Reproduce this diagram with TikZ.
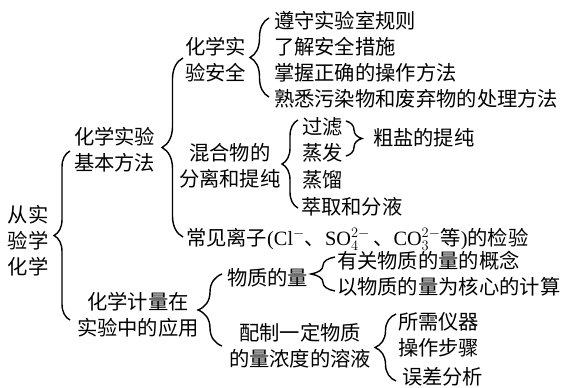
\documentclass[tikz,border=0pt]{standalone}
\usepackage{fontspec}
\setmainfont{Noto Sans CJK SC}
\newfontfamily\lat{Liberation Serif}
\usetikzlibrary{decorations.pathreplacing}
\begin{document}
\begin{tikzpicture}[x=1pt,y=-1pt,
  every node/.style={font=\fontsize{20.3}{26}\selectfont, inner sep=0pt, outer sep=0pt},
  lbl/.style={anchor=west, align=center},
  item/.style={anchor=west},
  br/.style={decorate, decoration={brace, amplitude=#1}, line width=1.4pt}
]
\useasboundingbox (0,0) rectangle (565,388);
% root
\node[lbl, align=left] (root) at (8,241) {从实\\验学\\化学};
\coordinate (b0b) at (70,320); \coordinate (b0t) at (70,151);
\draw[br=16pt] (b0b) -- (b0t);

% 化学实验基本方法
\node[lbl] (n1) at (74,150) {化学实验\\基本方法};
\coordinate (b1b) at (183,237); \coordinate (b1t) at (183,58);
\draw[br=21pt] (b1b) -- (b1t);

\node[lbl] (n11) at (185,60) {化学实\\验安全};
\coordinate (b2b) at (269,97); \coordinate (b2t) at (269,18);
\draw[br=19pt] (b2b) -- (b2t);
\node[item] (a1) at (274,21) {遵守实验室规则};
\node[item] (a2) at (274,47) {了解安全措施};
\node[item] (a3) at (274,73) {掌握正确的操作方法};
\node[item] (a4) at (274,99) {熟悉污染物和废弃物的处理方法};

\node[lbl] (n12) at (179,166) {混合物的\\分离和提纯};
\coordinate (b3b) at (298,208); \coordinate (b3t) at (298,120);
\draw[br=16pt] (b3b) -- (b3t);
\node[item] (c1) at (302,127) {过滤};
\node[item] (c2) at (302,153) {蒸发};
\node[item] (c3) at (302,180) {蒸馏};
\node[item] (c4) at (301,207) {萃取和分液};
\coordinate (b4t) at (346,121); \coordinate (b4b) at (346,156);
\draw[br=16pt] (b4t) -- (b4b);
\node[item] (c5) at (373,138) {粗盐的提纯};

\node[item] (n13) at (186,239) {常见离子{\lat(Cl}$^{-}$、{\lat SO}$_4^{2-}$\,、{\lat CO}$_3^{2-}$等{\lat)}的检验};

% 化学计量在实验中的应用
\node[lbl] (n2) at (77,315) {化学计量在\\实验中的应用};
\coordinate (b5b) at (222,346); \coordinate (b5t) at (222,274);
\draw[br=24pt] (b5b) -- (b5t);

\node[item] (n21) at (227,278) {物质的量};
\coordinate (b6b) at (335,291); \coordinate (b6t) at (335,257);
\draw[br=24pt] (b6b) -- (b6t);
\node[item] (d1) at (337,261) {有关物质的量的概念};
\node[item] (d2) at (337,287) {以物质的量为核心的计算};

\node[lbl] (n22) at (229,346) {配制一定物质\\的量浓度的溶液};
\coordinate (b7b) at (396,381); \coordinate (b7t) at (396,314);
\draw[br=21pt] (b7b) -- (b7t);
\node[item] (e1) at (398,322) {所需仪器};
\node[item] (e2) at (398,348) {操作步骤};
\node[item] (e3) at (402,377) {误差分析};
\end{tikzpicture}
\end{document}
